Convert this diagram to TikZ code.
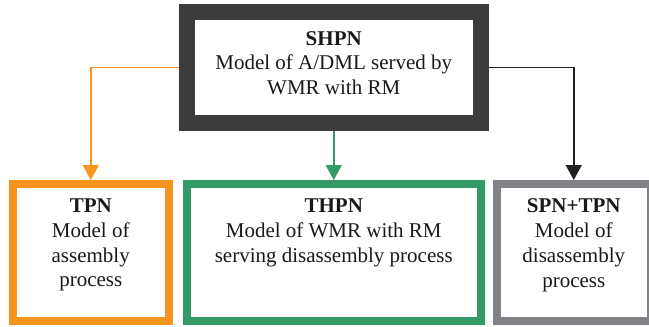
\documentclass[tikz,border=0pt]{standalone}
\usepackage{fontspec}
\setmainfont{Liberation Serif}
\usetikzlibrary{arrows.meta,positioning}
\definecolor{shpndark}{HTML}{3C3C3C}
\definecolor{tpnorange}{HTML}{F7941D}
\definecolor{thpngreen}{HTML}{339966}
\definecolor{spngray}{HTML}{818286}
\definecolor{linkblack}{HTML}{231F20}

\begin{document}
\begin{tikzpicture}[x=1pt, y=-1pt,
  every node/.style={font=\fontsize{21}{24.7}\selectfont},
  box/.style={draw, rectangle, inner sep=0pt},
  lbl/.style={align=center, inner sep=0pt, anchor=north, text=black!90},
  link/.style={line width=1.5pt, -{Triangle[width=16pt,length=15pt]}}]
  \useasboundingbox (0,0) rectangle (649,327);

  % Boite principale (SHPN)
  \node[box, draw=shpndark, line width=16pt, minimum width=293.5pt, minimum height=111pt] (shpn) at (333.75,67.5) {};
  \node[lbl] (shpn-txt) at (333.75,31) {\textbf{SHPN}\\Model of A/DML served by\\WMR with RM};

  % Trois sous-modeles
  \node[box, draw=tpnorange, line width=8pt, minimum width=155.5pt, minimum height=137pt] (tpn) at (90.75,252.5) {};
  \node[box, draw=thpngreen, line width=8pt, minimum width=293.5pt, minimum height=137pt] (thpn) at (333.75,252.5) {};
  \node[box, draw=spngray, line width=8pt, minimum width=153.5pt, minimum height=137pt] (spn) at (573.75,252.5) {};

  \node[lbl] (tpn-txt) at (90.75,198.8) {\textbf{TPN}\\Model of\\assembly\\process};
  \node[lbl] (thpn-txt) at (333.75,198.8) {\textbf{THPN}\\Model of WMR with RM\\serving disassembly process};
  \node[lbl] (spn-txt) at (573.75,198.8) {\textbf{SPN+TPN}\\Model of\\disassembly\\process};

  % Liens
  \draw[link, tpnorange] (shpn.west) -| (tpn.north);
  \draw[link, thpngreen] (shpn.south) -- (thpn.north);
  \draw[link, linkblack] (shpn.east) -| (spn.north);
\end{tikzpicture}
\end{document}
